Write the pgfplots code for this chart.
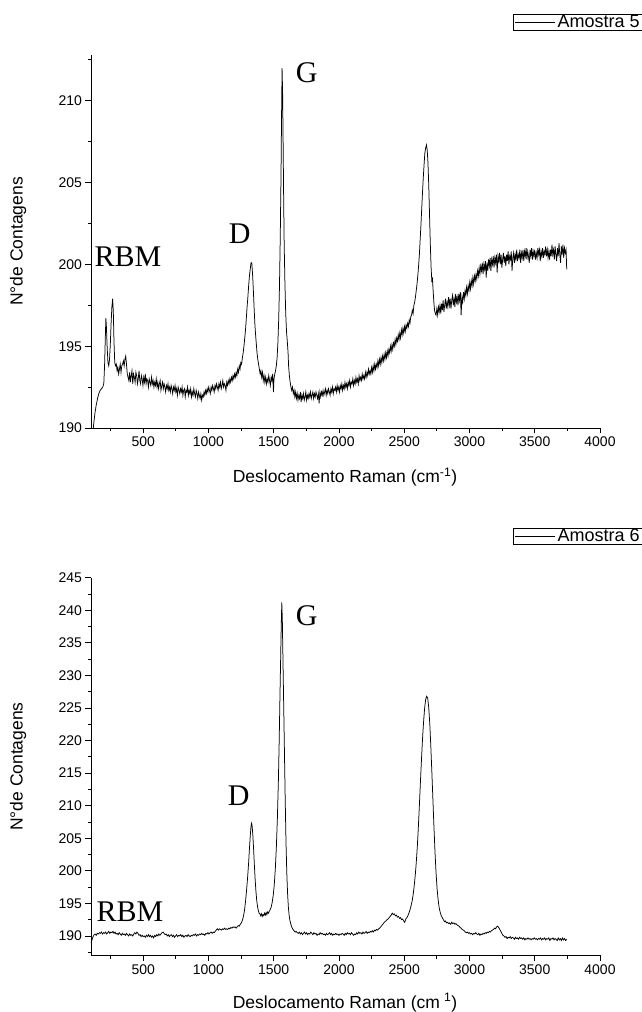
\documentclass[border=0pt]{standalone}
\usepackage{fontspec}
\setmainfont{Liberation Sans}
\newfontfamily\annfont{Liberation Serif}
\usepackage{pgfplots}
\pgfplotsset{compat=1.18}

\pgfplotsset{
  ramanstyle/.style={
    scale only axis,
    width=509pt,
    xmin=100, xmax=4000,
    axis x line*=bottom,
    axis y line*=left,
    axis line style={line width=0.9pt},
    tick align=outside,
    major tick length=5.5pt,
    minor tick length=3pt,
    every tick/.style={black, line width=0.9pt},
    xtick={500,1000,1500,2000,2500,3000,3500,4000},
    minor xtick={250,750,1250,1750,2250,2750,3250,3750},
    tick label style={font=\fontsize{14}{14}\selectfont},
    /pgf/number format/assume math mode=true,
    /pgf/number format/1000 sep={},
    label style={font=\fontsize{17.5}{18}\selectfont},
    ylabel={N°de Contagens},
    y label style={at={(axis description cs:-0.143,0.5)}, anchor=center},
    legend style={draw=black, line width=0.7pt, anchor=north east,
      font=\fontsize{18}{18}\selectfont, inner xsep=2pt, inner ysep=0pt,
      nodes={inner xsep=2pt, inner ysep=1pt}},
    legend image code/.code={\draw[black, line width=0.7pt] (0pt,0pt) -- (40pt,0pt);},
  },
}

\begin{document}
\begin{tikzpicture}
\useasboundingbox (0,0) rectangle (642pt,1012pt);

% ---------------- Amostra 5 ----------------
\begin{axis}[ramanstyle,
  at={(91pt,584pt)}, anchor=south west,
  height=373pt,
  ymin=190, ymax=212.8,
  ytick={190,195,200,205,210},
  minor ytick={192.5,197.5,202.5,207.5,212.5},
  xlabel={Deslocamento Raman (cm\textsuperscript{-1})},
  x label style={at={(axis description cs:0.499,-0.131)}, anchor=center},
  legend style={at={(axis description cs:1.0865,1.11)}},
]
\addplot[black, line width=0.75pt] table {
x y
100 188.2
110 189.3
120 190.2
130 190.9
140 191.4
150 191.8
160 192.1
170 192.3
180 192.4
190 192.5
198 192.7
204 193.8
210 195.6
214 196.7
218 196.2
224 194.9
230 194.0
236 193.8
242 194.2
248 195.1
254 196.4
260 197.4
266 197.9
271 197.1
276 195.3
282 194.0
288 193.8
294 193.9
300 193.5
306 193.7
312 193.3
318 193.6
324 193.9
330 193.4
336 193.8
342 193.9
348 194.1
354 193.8
360 194.2
366 194.4
372 193.9
378 193.3
384 193.1
390 192.9
396 193.4
402 192.8
408 193.2
414 193.5
420 192.7
426 193.3
432 193.1
438 192.8
444 193.4
450 193.2
456 192.7
462 193.0
468 193.5
474 192.9
480 192.7
486 193.2
492 193.0
498 192.6
504 193.1
510 192.8
516 193.3
522 192.7
528 193.0
534 192.9
540 192.5
546 193.0
552 192.8
558 192.6
564 193.1
570 192.7
576 192.9
582 192.5
588 192.8
594 192.6
600 193.0
606 192.5
612 192.8
618 192.4
624 192.7
630 192.9
636 192.3
642 192.6
648 192.8
654 192.4
660 192.7
666 192.5
672 192.2
678 192.6
684 192.4
690 192.7
696 192.3
702 192.5
708 192.2
714 192.6
720 192.4
726 192.1
732 192.5
738 192.3
744 192.6
750 192.2
756 192.4
762 192.0
768 192.5
774 192.3
780 192.1
786 192.4
792 192.2
798 192.5
804 192.0
810 192.3
816 192.4
822 191.9
828 192.3
834 192.2
840 192.5
846 192.0
852 192.3
858 192.1
864 192.4
870 191.9
876 192.2
882 192.0
888 192.4
894 192.1
900 191.9
906 192.3
912 192.1
918 191.8
924 192.2
930 192.0
936 191.8
942 192.1
948 191.7
954 192.0
960 191.9
966 192.2
972 192.0
978 192.3
984 192.1
990 192.4
996 192.2
1002 192.5
1008 192.3
1014 192.1
1020 192.5
1026 192.3
1032 192.6
1038 192.4
1044 192.2
1050 192.6
1056 192.4
1062 192.7
1068 192.5
1074 192.3
1080 192.7
1086 192.5
1092 192.8
1098 192.4
1104 192.6
1110 192.9
1116 192.5
1122 192.7
1128 192.6
1134 192.3
1140 192.8
1146 192.6
1152 192.9
1158 192.7
1164 193.0
1170 192.8
1176 193.1
1182 192.9
1188 193.2
1194 193.0
1200 193.3
1206 193.1
1212 193.4
1218 193.2
1224 193.6
1230 193.4
1236 193.8
1242 193.6
1248 194.0
1254 193.9
1260 194.3
1266 194.6
1272 195.0
1278 195.5
1284 196.0
1290 196.7
1296 197.4
1302 198.0
1308 198.7
1314 199.3
1320 199.7
1326 200.1
1332 200.1
1338 199.4
1344 198.4
1350 197.3
1356 196.3
1362 195.6
1368 195.0
1372 194.6
1378 194.2
1384 193.9
1390 193.6
1396 193.3
1402 193.5
1408 193.1
1414 193.4
1420 192.9
1426 193.2
1432 192.8
1438 193.1
1444 192.7
1450 193.0
1456 192.8
1462 193.2
1468 192.9
1474 192.6
1480 193.1
1486 192.9
1492 193.3
1498 192.2
1502 193.0
1508 193.3
1514 193.5
1520 193.8
1526 194.3
1532 195.2
1538 196.6
1544 198.6
1550 201.6
1556 205.5
1560 209.0
1564 212.0
1568 210.6
1572 207.5
1576 204.2
1580 201.3
1586 198.8
1592 197.0
1598 195.9
1604 195.3
1610 194.6
1614 193.8
1620 193.2
1626 192.8
1632 192.5
1638 192.3
1644 192.5
1650 192.1
1656 192.3
1662 191.9
1668 192.2
1674 191.8
1680 192.1
1686 191.7
1692 192.0
1698 191.8
1704 192.2
1710 191.6
1716 192.0
1722 191.8
1728 192.1
1734 191.7
1740 191.9
1746 192.2
1752 191.7
1758 192.0
1764 191.8
1770 192.1
1776 191.9
1782 192.2
1788 191.8
1794 192.0
1800 192.2
1806 191.8
1812 192.1
1818 191.9
1824 192.2
1830 192.0
1836 191.8
1842 192.1
1848 191.5
1854 192.2
1860 191.9
1866 192.2
1872 192.0
1878 192.3
1884 192.0
1890 192.2
1896 192.4
1902 192.0
1908 192.3
1914 192.1
1920 192.4
1926 192.2
1932 192.0
1938 192.4
1944 192.2
1950 192.5
1956 192.1
1962 192.4
1968 192.3
1974 192.5
1980 192.2
1986 192.6
1992 192.3
1998 192.5
2004 192.2
2010 192.6
2016 192.4
2022 192.7
2028 192.3
2034 192.6
2040 192.4
2046 192.8
2052 192.5
2058 192.7
2064 192.4
2070 192.8
2076 192.6
2082 192.9
2088 192.5
2094 192.8
2100 192.7
2106 193.0
2112 192.6
2118 192.9
2124 192.7
2130 193.1
2136 192.8
2142 193.0
2148 192.7
2154 193.2
2160 192.9
2166 193.1
2172 192.9
2178 193.3
2184 193.0
2190 193.2
2196 193.0
2202 193.4
2208 193.1
2214 193.4
2220 193.2
2226 193.6
2232 193.3
2238 193.5
2244 193.3
2250 193.7
2256 193.4
2262 193.8
2268 193.5
2274 193.9
2280 193.6
2286 193.9
2292 193.7
2298 194.1
2304 193.8
2310 194.2
2316 193.9
2322 194.3
2328 194.0
2334 194.4
2340 194.1
2346 194.5
2352 194.2
2358 194.6
2364 194.3
2370 194.7
2376 194.4
2382 194.8
2388 194.6
2394 195.0
2400 194.7
2406 195.1
2412 194.8
2418 195.2
2424 195.0
2430 195.4
2436 195.1
2442 195.5
2448 195.3
2454 195.7
2460 195.4
2466 195.8
2472 195.5
2478 196.0
2484 195.7
2490 196.1
2496 195.8
2502 196.2
2508 195.9
2514 196.3
2520 196.1
2526 196.4
2532 196.2
2538 196.6
2544 196.4
2550 196.8
2556 196.9
2562 197.2
2568 197.0
2574 197.5
2580 197.7
2586 198.0
2592 198.4
2598 198.8
2604 199.3
2610 199.9
2616 200.6
2622 201.5
2628 202.4
2634 203.4
2640 204.4
2646 205.3
2652 206.1
2658 206.8
2664 207.1
2670 207.3
2676 207.0
2682 206.2
2688 204.8
2694 203.0
2700 201.2
2706 199.8
2712 198.9
2716 199.2
2720 198.6
2726 197.8
2732 197.2
2738 197.0
2744 196.9
2750 197.3
2756 196.9
2762 197.4
2768 197.1
2774 197.5
2780 197.0
2786 197.6
2792 197.2
2798 197.8
2804 197.1
2810 197.5
2816 197.9
2822 197.3
2828 197.7
2834 197.4
2840 198.0
2846 197.5
2852 197.9
2858 197.3
2864 197.8
2870 198.1
2876 197.5
2882 197.9
2888 197.4
2894 198.2
2900 197.7
2906 198.0
2912 197.5
2918 198.2
2924 197.8
2930 198.3
2936 196.9
2942 198.0
2948 197.7
2954 198.3
2960 197.9
2966 198.4
2972 198.1
2978 198.6
2984 198.2
2990 198.7
2996 198.4
3002 198.9
3008 198.5
3014 199.0
3020 198.7
3026 199.2
3032 198.8
3038 199.3
3044 199.0
3050 199.4
3056 199.1
3062 199.6
3068 199.3
3074 199.8
3080 199.4
3086 199.9
3092 199.6
3098 200.1
3104 199.4
3110 200.0
3116 199.7
3122 200.2
3128 199.2
3134 200.1
3140 199.6
3146 200.3
3152 199.9
3158 200.4
3164 199.6
3170 200.3
3176 200.0
3182 200.5
3188 199.8
3194 200.4
3200 200.1
3206 200.6
3212 199.5
3218 200.5
3224 200.2
3230 200.7
3236 200.0
3242 200.6
3248 199.8
3254 200.3
3260 200.7
3266 200.1
3272 200.5
3278 199.9
3284 200.6
3290 200.2
3296 200.8
3302 200.0
3308 200.5
3314 200.3
3320 200.8
3326 199.6
3332 200.4
3338 200.7
3344 200.1
3350 200.6
3356 200.3
3362 200.9
3368 200.2
3374 200.6
3380 200.4
3386 200.9
3392 200.1
3398 200.7
3404 200.4
3410 200.9
3416 200.2
3422 200.8
3428 200.5
3434 201.0
3440 200.3
3446 200.8
3452 200.5
3458 200.1
3464 200.9
3470 200.5
3476 201.0
3482 200.3
3488 200.8
3494 200.5
3500 200.9
3506 200.3
3512 200.7
3518 200.4
3524 201.0
3530 200.6
3536 200.9
3542 200.2
3548 200.8
3554 200.5
3560 201.0
3566 200.4
3572 200.8
3578 200.6
3584 201.1
3590 200.5
3596 200.9
3602 200.4
3608 200.8
3614 200.3
3620 200.9
3626 200.5
3632 201.2
3638 200.6
3644 200.9
3650 200.3
3656 201.1
3662 200.6
3668 200.2
3674 201.0
3680 200.5
3686 201.3
3692 200.6
3698 200.1
3704 201.1
3710 200.6
3716 201.2
3722 200.4
3728 201.0
3734 200.7
3740 200.9
3745 199.7
};
\addlegendentry{Amostra 5}
\node[font=\annfont\fontsize{30}{30}\selectfont] at (axis cs:383,200.45) {RBM};
\node[font=\annfont\fontsize{30}{30}\selectfont] at (axis cs:1240,201.9) {D};
\node[font=\annfont\fontsize{30}{30}\selectfont] at (axis cs:1753,211.7) {G};
\end{axis}

% ---------------- Amostra 6 ----------------
\begin{axis}[ramanstyle,
  at={(91pt,56.5pt)}, anchor=south west,
  height=377.8pt,
  ymin=187, ymax=245,
  ytick={190,195,...,245},
  minor ytick={187.5,192.5,...,242.5},
  xlabel={Deslocamento Raman (cm\textsuperscript{\phantom{-}1})},
  x label style={at={(axis description cs:0.499,-0.125)}, anchor=center},
  legend style={at={(axis description cs:1.0865,1.1316)}},
]
\addplot[black, line width=0.75pt] table {
x y
100 188.9
108 189.4
116 189.9
124 190.2
132 190.3
140 190.1
148 190.4
156 190.3
164 190.5
172 190.4
180 190.6
188 190.3
196 190.5
204 190.4
212 190.6
220 190.3
228 190.5
236 190.7
244 190.4
252 190.6
260 190.5
268 190.7
276 190.4
284 190.6
292 190.3
300 190.4
308 190.2
316 190.5
324 190.3
332 190.1
340 190.4
348 190.2
356 190.3
364 190.1
372 190.4
380 190.2
388 190.0
396 190.3
404 190.1
412 190.2
420 190.0
428 190.3
436 190.5
444 190.3
452 190.6
460 190.4
468 190.1
476 190.2
484 189.9
492 190.1
500 189.9
508 190.0
516 189.8
524 190.1
532 189.9
540 190.2
548 189.9
556 190.1
564 189.8
572 190.0
580 189.7
588 190.1
596 189.9
604 190.2
612 190.0
620 190.3
628 190.1
636 190.3
644 190.5
652 190.6
660 190.4
668 190.2
676 190.3
684 190.0
692 190.2
700 189.9
708 190.1
716 190.2
724 189.9
732 190.1
740 189.8
748 190.0
756 190.2
764 189.9
772 190.1
780 190.0
788 190.2
796 189.9
804 190.1
812 189.8
820 190.0
828 190.1
836 189.9
844 190.2
852 190.0
860 189.9
868 190.1
876 190.0
884 190.2
892 190.1
900 190.3
908 190.0
916 190.2
924 190.1
932 190.3
940 190.2
948 190.4
956 190.2
964 190.3
972 190.1
980 190.4
988 190.3
996 190.5
1004 190.3
1012 190.5
1020 190.6
1028 190.4
1036 190.6
1044 190.5
1052 190.7
1060 190.9
1068 191.1
1076 190.9
1084 191.1
1092 191.0
1100 190.9
1108 191.1
1116 191.0
1124 191.2
1132 191.0
1140 191.1
1148 191.0
1156 191.2
1164 191.1
1172 191.3
1180 191.2
1188 191.4
1196 191.3
1204 191.4
1212 191.2
1220 191.4
1228 191.6
1236 191.5
1244 191.8
1252 192.0
1260 192.4
1268 193.0
1276 193.9
1284 195.3
1292 197.0
1300 199.0
1308 201.3
1314 203.4
1320 205.3
1326 206.8
1330 207.3
1334 207.0
1340 205.5
1346 203.3
1352 200.8
1358 198.6
1364 196.8
1370 195.4
1376 194.5
1382 193.9
1388 193.5
1394 193.4
1400 193.1
1406 193.4
1412 193.0
1418 193.3
1424 193.1
1430 193.5
1436 193.2
1442 193.6
1448 193.3
1454 193.7
1460 193.5
1466 193.8
1472 194.0
1480 194.4
1488 195.1
1496 196.2
1504 197.8
1512 200.2
1520 203.5
1528 208.0
1536 214.0
1542 220.0
1548 227.0
1554 233.5
1558 238.0
1562 241.2
1566 238.5
1570 233.5
1576 226.0
1582 218.5
1588 211.0
1594 204.5
1600 199.8
1606 196.6
1612 194.5
1618 193.2
1624 192.4
1630 191.9
1636 191.5
1642 191.2
1648 191.0
1656 190.8
1664 190.6
1672 190.7
1680 190.5
1688 190.4
1696 190.6
1704 190.3
1712 190.5
1720 190.2
1728 190.4
1736 190.6
1744 190.3
1752 190.5
1760 190.2
1768 190.4
1776 190.3
1784 190.6
1792 190.4
1800 190.2
1808 190.5
1816 190.3
1824 190.4
1832 190.1
1840 190.3
1848 190.2
1856 190.5
1864 190.3
1872 190.4
1880 190.2
1888 190.3
1896 190.1
1904 190.4
1912 190.2
1920 190.3
1928 190.5
1936 190.2
1944 190.4
1952 190.1
1960 190.3
1968 190.2
1976 190.4
1984 190.2
1992 190.3
2000 190.1
2008 190.3
2016 190.2
2024 190.4
2032 190.3
2040 190.1
2048 190.4
2056 190.2
2064 190.5
2072 190.3
2080 190.4
2088 190.2
2096 190.5
2104 190.3
2112 190.1
2120 190.3
2128 190.2
2136 190.5
2144 190.3
2152 190.6
2160 190.4
2168 190.5
2176 190.3
2184 190.6
2192 190.4
2200 190.5
2208 190.7
2216 190.4
2224 190.6
2232 190.5
2240 190.7
2248 190.6
2256 190.8
2264 190.6
2272 190.9
2280 190.8
2288 191.0
2296 190.9
2304 191.1
2312 191.2
2320 191.4
2328 191.6
2336 191.8
2344 192.0
2352 192.2
2360 192.3
2368 192.5
2376 192.6
2384 192.8
2392 193.0
2400 193.2
2408 193.5
2416 193.3
2424 193.4
2432 193.1
2440 193.2
2448 192.9
2456 193.0
2464 192.7
2472 192.8
2480 192.5
2488 192.6
2496 192.3
2504 192.1
2512 192.6
2520 192.8
2528 193.1
2536 193.5
2544 194.0
2552 194.6
2560 195.3
2568 196.3
2576 197.6
2584 199.2
2592 201.2
2600 203.6
2608 206.6
2616 210.0
2624 213.6
2632 217.0
2640 220.2
2648 222.8
2656 224.9
2664 226.3
2672 226.8
2680 226.5
2688 225.0
2696 222.5
2704 219.0
2712 215.0
2720 210.8
2728 206.6
2736 202.8
2744 199.6
2752 197.2
2760 195.5
2768 194.3
2776 193.6
2784 193.1
2792 192.8
2800 192.5
2808 192.2
2816 192.3
2824 192.0
2832 192.1
2840 191.9
2848 192.0
2856 191.8
2864 192.1
2872 191.9
2880 192.0
2888 191.8
2896 191.9
2904 191.7
2912 191.6
2920 191.5
2928 191.3
2936 191.2
2944 191.0
2952 190.9
2960 190.8
2968 190.6
2976 190.5
2984 190.6
2992 190.4
3000 190.5
3008 190.3
3016 190.4
3024 190.2
3032 190.4
3040 190.3
3048 190.5
3056 190.3
3064 190.2
3072 190.4
3080 190.1
3088 190.3
3096 190.2
3104 190.4
3112 190.3
3120 190.5
3128 190.4
3136 190.6
3144 190.5
3152 190.7
3160 190.6
3168 190.8
3176 190.9
3184 191.0
3192 191.2
3200 191.1
3208 191.4
3216 191.5
3224 191.3
3232 191.0
3240 190.7
3248 190.4
3256 190.1
3264 190.0
3272 189.8
3280 189.9
3288 189.6
3296 189.8
3304 189.7
3312 189.9
3320 189.6
3328 189.8
3336 189.7
3344 189.5
3352 189.8
3360 189.6
3368 189.7
3376 189.5
3384 189.8
3392 189.6
3400 189.7
3408 189.5
3416 189.7
3424 189.4
3432 189.6
3440 189.5
3448 189.7
3456 189.5
3464 189.6
3472 189.4
3480 189.6
3488 189.5
3496 189.7
3504 189.5
3512 189.6
3520 189.4
3528 189.6
3536 189.5
3544 189.7
3552 189.4
3560 189.6
3568 189.5
3576 189.7
3584 189.4
3592 189.6
3600 189.5
3608 189.7
3616 189.3
3624 189.6
3632 189.5
3640 189.7
3648 189.4
3656 189.6
3664 189.5
3672 189.3
3680 189.7
3688 189.4
3696 189.6
3704 189.3
3712 189.7
3720 189.4
3728 189.6
3736 189.3
3745 189.5
};
\addlegendentry{Amostra 6}
\node[font=\annfont\fontsize{30}{30}\selectfont] at (axis cs:398,193.7) {RBM};
\node[font=\annfont\fontsize{30}{30}\selectfont] at (axis cs:1232,211.5) {D};
\node[font=\annfont\fontsize{30}{30}\selectfont] at (axis cs:1753,239.1) {G};
\end{axis}
\end{tikzpicture}
\end{document}
